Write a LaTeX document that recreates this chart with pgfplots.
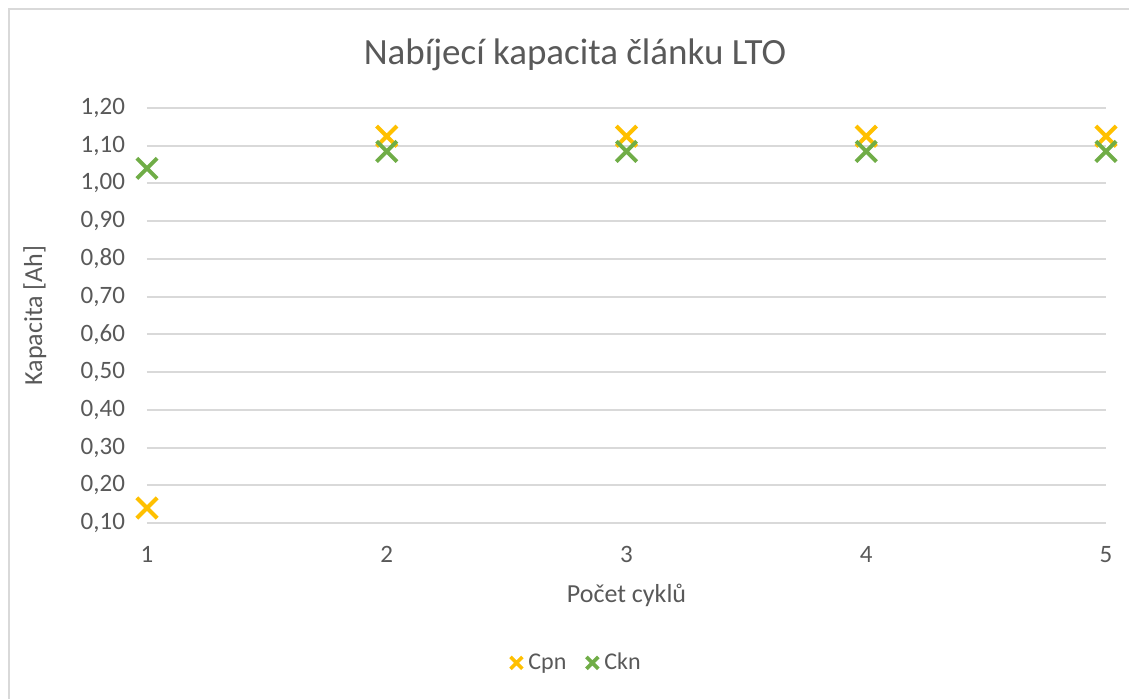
\documentclass[border=0pt]{standalone}
\usepackage{pgfplots}
\pgfplotsset{compat=1.18}
\usepackage{fontspec}
\setmainfont{Carlito}
\definecolor{cpn}{HTML}{FFC000}
\definecolor{ckn}{HTML}{70AD47}
\definecolor{txt}{HTML}{595959}
\definecolor{grd}{HTML}{D9D9D9}
\begin{document}
\begin{tikzpicture}[x=0.5pt,y=-0.5pt]
\path[use as bounding box] (0,0) rectangle (1129,698);
\draw[grd, line width=1pt] (9,720) -- (9,9) -- (1150,9);
\node[txt, font=\fontsize{18.5}{22}\selectfont] at (575,55) {Nabíjecí kapacita článku LTO};
\begin{axis}[
  at={(73.5pt,-261.5pt)}, anchor=south west, scale only axis,
  width=479.5pt, height=207.5pt,
  xmin=1, xmax=5, ymin=0.1, ymax=1.2,
  xtick={1,2,3,4,5},
  ytick={0.1,0.2,0.3,0.4,0.5,0.6,0.7,0.8,0.9,1.0,1.1,1.2},
  ymajorgrids, grid style={grd, line width=1pt},
  axis line style={draw=none}, major tick length=0pt,
  tick label style={txt, font=\fontsize{12.5}{14}\selectfont},
  /pgf/number format/assume math mode=true,
  yticklabel style={/pgf/number format/.cd, fixed, fixed zerofill, precision=2, use comma, /tikz/.cd, xshift=-7.5pt},
  xticklabel style={/pgf/number format/.cd, fixed, precision=0, /tikz/.cd, yshift=-8pt},
  xlabel={Počet cyklů}, ylabel={Kapacita [Ah]},
  every axis x label/.style={at={(axis description cs:0.5,-0.1735)}, anchor=center},
  every axis y label/.style={at={(axis description cs:-0.117,0.5)}, rotate=90, anchor=center},
  label style={txt, font=\fontsize{13}{15}\selectfont},
  clip=false,
  legend style={at={(axis description cs:0.449,-0.337)}, anchor=center, draw=none,
    legend columns=-1, font=\fontsize{12}{14}\selectfont, text=txt,
    /tikz/every odd column/.append style={column sep=1pt},
    /tikz/every even column/.append style={column sep=8pt}},
  legend image code/.code={\draw[mark size=4.2pt, line width=1.8pt] plot coordinates {(0.35em,0)};},
]
\addplot[only marks, mark=x, mark size=7.2pt, line width=2pt, color=cpn] table {
x y
1 0.14
2 1.125
3 1.125
4 1.125
5 1.125
};
\addlegendentry{Cpn}
\addplot[only marks, mark=x, mark size=7.2pt, line width=2pt, color=ckn] table {
x y
1 1.04
2 1.085
3 1.085
4 1.085
5 1.085
};
\addlegendentry{Ckn}
\end{axis}
\end{tikzpicture}
\end{document}
